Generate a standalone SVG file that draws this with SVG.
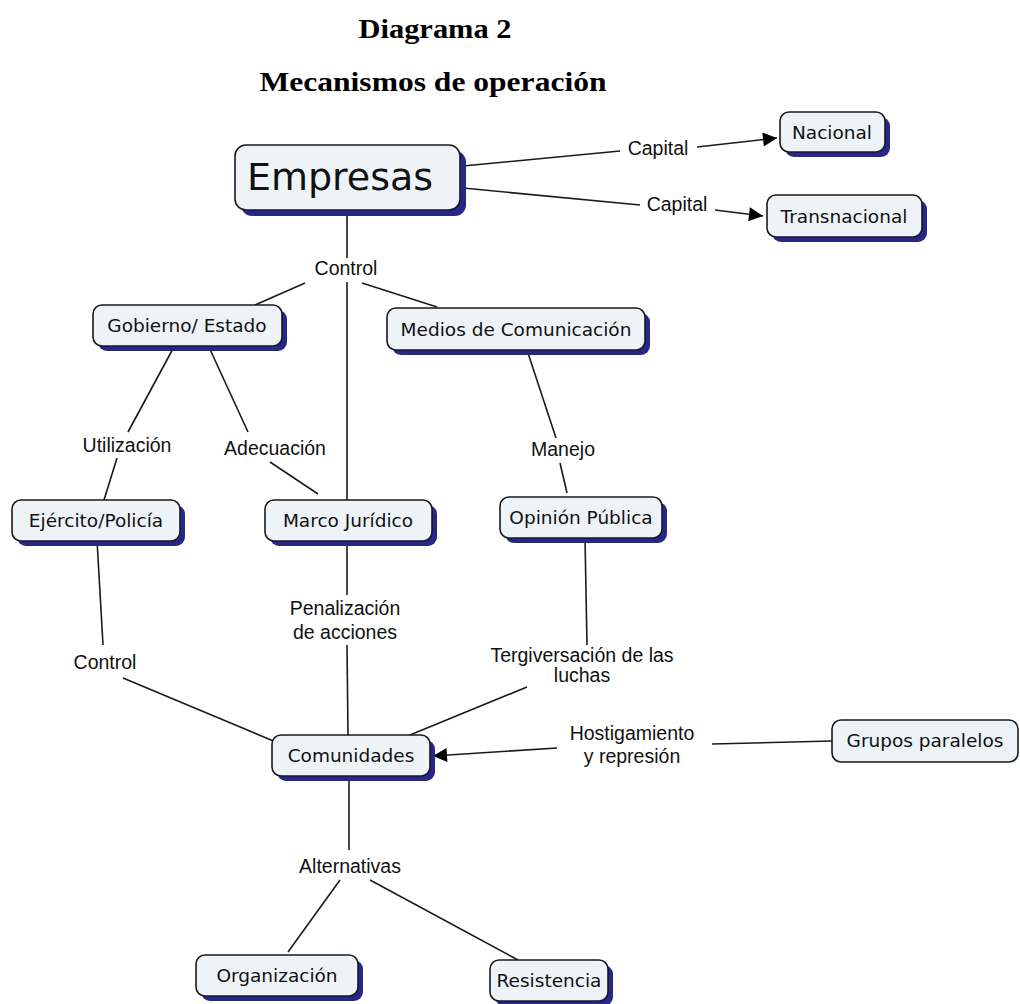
<svg xmlns="http://www.w3.org/2000/svg" width="1020" height="1004" viewBox="0 0 1020 1004">
<defs>
<style>
.title{font-family:"Liberation Serif","DejaVu Serif",serif;font-weight:bold;font-size:27px;text-anchor:middle;fill:#000}
.box{fill:#eef3f8;stroke:#1a1a1a;stroke-width:1.6}
.sh{fill:#27278a}
.nt{font-family:"DejaVu Sans",Verdana,sans-serif;font-size:18.5px;text-anchor:middle;fill:#111}
.lb{font-family:"Liberation Sans",Arial,sans-serif;font-size:19.5px;text-anchor:middle;fill:#111}
.ln{stroke:#1a1a1a;stroke-width:1.6;fill:none}
</style>
<marker id="ahb" viewBox="0 0 10 10" refX="10" refY="5" markerWidth="16" markerHeight="14" markerUnits="userSpaceOnUse" orient="auto">
<path d="M0,0 L10,5 L0,10 z" fill="#000"/>
</marker>
</defs>
<rect width="1020" height="1004" fill="#fff"/>
<text class="title" x="435" y="38" textLength="153" lengthAdjust="spacingAndGlyphs">Diagrama 2</text>
<text class="title" x="433" y="91" textLength="347" lengthAdjust="spacingAndGlyphs">Mecanismos de operación</text>

<g id="connectors">
<line class="ln" x1="463" y1="166" x2="620" y2="151"/>
<line class="ln" x1="697" y1="147" x2="777" y2="138" marker-end="url(#ahb)"/>
<line class="ln" x1="463" y1="188" x2="640" y2="205"/>
<line class="ln" x1="715" y1="210" x2="763" y2="216" marker-end="url(#ahb)"/>
<line class="ln" x1="347" y1="213" x2="347" y2="258"/>
<line class="ln" x1="305" y1="283" x2="255" y2="305"/>
<line class="ln" x1="347" y1="282" x2="347" y2="500"/>
<line class="ln" x1="362" y1="283" x2="437" y2="307"/>
<line class="ln" x1="175" y1="345" x2="128" y2="432"/>
<line class="ln" x1="117" y1="458" x2="104" y2="500"/>
<line class="ln" x1="208" y1="345" x2="248" y2="432"/>
<line class="ln" x1="270" y1="462" x2="318" y2="494"/>
<line class="ln" x1="527" y1="350" x2="556" y2="438"/>
<line class="ln" x1="560" y1="463" x2="567" y2="493"/>
<line class="ln" x1="97" y1="540" x2="103" y2="645"/>
<line class="ln" x1="123" y1="678" x2="283" y2="745"/>
<line class="ln" x1="347" y1="540" x2="347" y2="595"/>
<line class="ln" x1="347" y1="645" x2="348" y2="735"/>
<line class="ln" x1="585" y1="538" x2="587" y2="645"/>
<line class="ln" x1="527" y1="687" x2="410" y2="735"/>
<line class="ln" x1="832" y1="741" x2="712" y2="744"/>
<line class="ln" x1="557" y1="748" x2="433" y2="756" marker-end="url(#ahb)"/>
<line class="ln" x1="349" y1="776" x2="349" y2="850"/>
<line class="ln" x1="340" y1="880" x2="288" y2="952"/>
<line class="ln" x1="370" y1="880" x2="518" y2="960"/>
</g>

<g id="labels">
<text class="lb" x="658" y="155">Capital</text>
<text class="lb" x="677" y="211">Capital</text>
<text class="lb" x="346" y="275">Control</text>
<text class="lb" x="127" y="452">Utilización</text>
<text class="lb" x="275" y="455">Adecuación</text>
<text class="lb" x="563" y="456">Manejo</text>
<text class="lb" x="345" y="615">Penalización</text>
<text class="lb" x="345" y="639">de acciones</text>
<text class="lb" x="105" y="669">Control</text>
<text class="lb" x="582" y="662">Tergiversación de las</text>
<text class="lb" x="582" y="682">luchas</text>
<text class="lb" x="632" y="740">Hostigamiento</text>
<text class="lb" x="632" y="763">y represión</text>
<text class="lb" x="350" y="873">Alternativas</text>
</g>

<g id="n-empresas">
<rect class="sh" x="241" y="151" width="225" height="65" rx="11"/>
<rect class="box" x="235" y="145" width="225" height="65" rx="11"/>
<text class="nt" x="340" y="190" style="font-size:38px">Empresas</text>
</g>
<g id="n-nacional">
<rect class="sh" x="785" y="117" width="105" height="40" rx="9"/>
<rect class="box" x="780" y="112" width="105" height="40" rx="9"/>
<text class="nt" x="832" y="139">Nacional</text>
</g>
<g id="n-transnacional">
<rect class="sh" x="772" y="200" width="155" height="42" rx="9"/>
<rect class="box" x="767" y="195" width="155" height="42" rx="9"/>
<text class="nt" x="844" y="223">Transnacional</text>
</g>
<g id="n-gobierno">
<rect class="sh" x="98" y="310" width="189" height="41" rx="9"/>
<rect class="box" x="93" y="305" width="189" height="41" rx="9"/>
<text class="nt" x="187" y="332">Gobierno/ Estado</text>
</g>
<g id="n-medios">
<rect class="sh" x="392" y="313" width="258" height="42" rx="9"/>
<rect class="box" x="387" y="308" width="258" height="42" rx="9"/>
<text class="nt" x="516" y="336">Medios de Comunicación</text>
</g>
<g id="n-ejercito">
<rect class="sh" x="17" y="505" width="168" height="41" rx="9"/>
<rect class="box" x="12" y="500" width="168" height="41" rx="9"/>
<text class="nt" x="96" y="527">Ejército/Policía</text>
</g>
<g id="n-marco">
<rect class="sh" x="270" y="505" width="167" height="41" rx="9"/>
<rect class="box" x="265" y="500" width="167" height="41" rx="9"/>
<text class="nt" x="348" y="527">Marco Jurídico</text>
</g>
<g id="n-opinion">
<rect class="sh" x="505" y="502" width="162" height="41" rx="9"/>
<rect class="box" x="500" y="497" width="162" height="41" rx="9"/>
<text class="nt" x="581" y="524">Opinión Pública</text>
</g>
<g id="n-comunidades">
<rect class="sh" x="277" y="740" width="158" height="41" rx="9"/>
<rect class="box" x="272" y="735" width="158" height="41" rx="9"/>
<text class="nt" x="351" y="762">Comunidades</text>
</g>
<g id="n-grupos">
<rect class="box" x="832" y="720" width="186" height="42" rx="9"/>
<text class="nt" x="925" y="747">Grupos paralelos</text>
</g>
<g id="n-organizacion">
<rect class="sh" x="201" y="960" width="162" height="41" rx="9"/>
<rect class="box" x="196" y="955" width="162" height="41" rx="9"/>
<text class="nt" x="277" y="982">Organización</text>
</g>
<g id="n-resistencia">
<rect class="sh" x="495" y="965" width="118" height="41" rx="9"/>
<rect class="box" x="490" y="960" width="118" height="41" rx="9"/>
<text class="nt" x="549" y="987">Resistencia</text>
</g>
</svg>
